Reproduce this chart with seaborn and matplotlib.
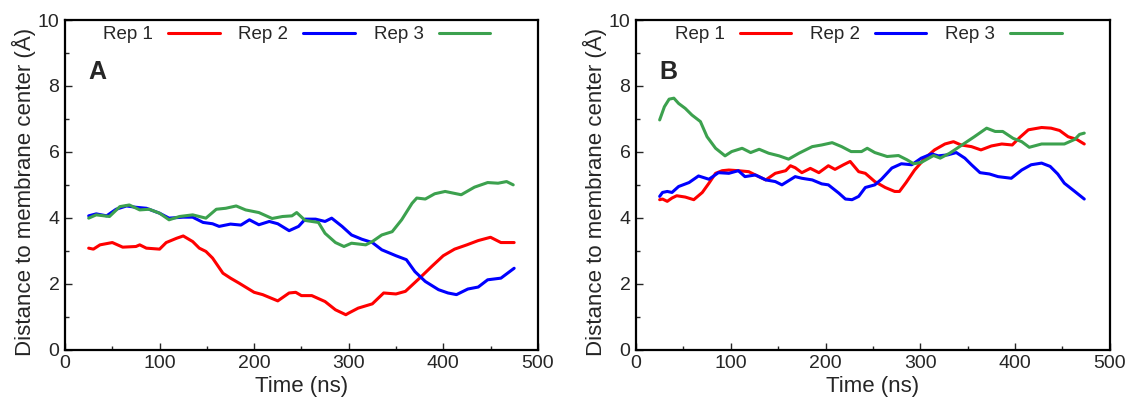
import pandas as pd
import matplotlib.pyplot as plt
import seaborn as sns
from matplotlib.ticker import MultipleLocator

# --- Data ---
# Panel A
a_rep1_t = [25, 30, 37, 50, 61, 75, 79, 86, 100, 107, 118, 125, 135, 142, 149, 156, 167, 175, 184, 200, 209, 225,
            237, 244, 250, 261, 275, 286, 297, 300, 310, 325, 337, 350, 360, 375, 388, 400, 412, 425, 437, 450, 461, 475]
a_rep1 = [3.08, 3.05, 3.18, 3.25, 3.11, 3.13, 3.18, 3.08, 3.05, 3.25, 3.38, 3.45, 3.28, 3.08, 2.98, 2.78, 2.32,
          2.17, 2.02, 1.74, 1.67, 1.48, 1.72, 1.74, 1.64, 1.64, 1.46, 1.21, 1.06, 1.11, 1.26, 1.39, 1.72, 1.69,
          1.77, 2.17, 2.53, 2.85, 3.05, 3.18, 3.31, 3.41, 3.25, 3.25]

a_rep2_t = [25, 33, 44, 54, 65, 75, 86, 100, 110, 125, 135, 146, 156, 163, 175, 186, 195, 205, 216, 225, 237, 247,
            254, 265, 275, 282, 293, 303, 314, 325, 335, 350, 361, 370, 381, 395, 405, 414, 426, 437, 447, 461, 475]
a_rep2 = [4.06, 4.12, 4.06, 4.26, 4.36, 4.32, 4.29, 4.14, 3.99, 4.02, 4.02, 3.86, 3.82, 3.74, 3.81, 3.78, 3.94,
          3.79, 3.89, 3.82, 3.61, 3.74, 3.96, 3.96, 3.89, 3.99, 3.74, 3.48, 3.35, 3.25, 3.03, 2.85, 2.73, 2.37,
          2.07, 1.82, 1.72, 1.67, 1.84, 1.90, 2.12, 2.17, 2.47]

a_rep3_t = [25, 33, 47, 58, 68, 79, 89, 100, 110, 121, 135, 149, 160, 170, 181, 191, 205, 219, 230, 240, 245, 254,
            268, 275, 286, 295, 303, 318, 325, 335, 346, 356, 367, 372, 381, 391, 402, 419, 433, 447, 458, 467, 474]
a_rep3 = [3.99, 4.09, 4.04, 4.34, 4.39, 4.24, 4.26, 4.14, 3.94, 4.04, 4.09, 3.99, 4.26, 4.29, 4.36, 4.24, 4.16,
          3.98, 4.04, 4.06, 4.16, 3.92, 3.86, 3.53, 3.25, 3.13, 3.23, 3.18, 3.28, 3.48, 3.58, 3.94, 4.44, 4.60,
          4.57, 4.73, 4.80, 4.70, 4.93, 5.07, 5.05, 5.10, 5.00]

# Panel B
b_rep1_t = [25, 28, 33, 38, 43, 52, 61, 70, 77, 84, 91, 98, 108, 119, 126, 137, 147, 158, 163, 168, 175, 184, 193,
            203, 210, 219, 226, 235, 242, 252, 263, 273, 278, 285, 294, 305, 315, 326, 335, 343, 354, 364, 375,
            386, 397, 405, 414, 428, 438, 447, 456, 465, 473]
b_rep1 = [4.55, 4.57, 4.50, 4.60, 4.67, 4.63, 4.55, 4.77, 5.05, 5.35, 5.43, 5.45, 5.43, 5.40, 5.30, 5.15, 5.35,
          5.43, 5.58, 5.52, 5.37, 5.50, 5.37, 5.58, 5.47, 5.61, 5.71, 5.40, 5.35, 5.10, 4.92, 4.80, 4.80, 5.07,
          5.45, 5.81, 6.06, 6.24, 6.31, 6.21, 6.16, 6.06, 6.18, 6.24, 6.21, 6.44, 6.67, 6.74, 6.72, 6.65, 6.46,
          6.38, 6.24]

b_rep2_t = [25, 28, 33, 38, 45, 56, 66, 77, 87, 98, 108, 115, 126, 137, 147, 154, 168, 175, 186, 196, 203, 214,
            221, 228, 235, 242, 252, 259, 270, 280, 291, 301, 312, 319, 329, 338, 347, 354, 363, 373, 382, 396,
            407, 417, 428, 437, 445, 452, 463, 473]
b_rep2 = [4.65, 4.77, 4.80, 4.77, 4.95, 5.07, 5.27, 5.17, 5.37, 5.35, 5.43, 5.25, 5.30, 5.15, 5.10, 5.00, 5.25,
          5.20, 5.15, 5.03, 5.00, 4.75, 4.57, 4.55, 4.65, 4.92, 5.00, 5.17, 5.51, 5.64, 5.61, 5.81, 5.94, 5.88,
          5.91, 5.98, 5.81, 5.61, 5.37, 5.33, 5.25, 5.20, 5.45, 5.61, 5.66, 5.56, 5.33, 5.05, 4.80, 4.57]

b_rep3_t = [25, 30, 35, 40, 45, 52, 59, 68, 75, 84, 94, 101, 112, 121, 130, 140, 151, 161, 172, 186, 196, 207,
            217, 227, 238, 244, 252, 265, 277, 286, 293, 301, 314, 321, 331, 344, 357, 370, 379, 387, 398, 407,
            415, 428, 442, 452, 463, 468, 473]
b_rep3 = [6.97, 7.37, 7.60, 7.63, 7.47, 7.32, 7.12, 6.92, 6.46, 6.11, 5.88, 6.01, 6.11, 5.98, 6.08, 5.96, 5.88,
          5.78, 5.96, 6.16, 6.21, 6.28, 6.16, 6.01, 6.01, 6.11, 5.98, 5.86, 5.89, 5.76, 5.64, 5.68, 5.89, 5.81,
          5.96, 6.21, 6.46, 6.72, 6.62, 6.62, 6.41, 6.31, 6.14, 6.24, 6.24, 6.24, 6.38, 6.53, 6.57]

rep_names = ['Rep 1', 'Rep 2', 'Rep 3']
rep_colors = ['#ff0000', '#0000ff', '#3ca14e']
panel_letters = ['A', 'B']


def to_frame(series):
    parts = []
    for name, (t, d) in zip(rep_names, series):
        parts.append(pd.DataFrame({'time': t, 'dist': d, 'rep': name}))
    return pd.concat(parts, ignore_index=True)


panels = [
    to_frame([(a_rep1_t, a_rep1), (a_rep2_t, a_rep2), (a_rep3_t, a_rep3)]),
    to_frame([(b_rep1_t, b_rep1), (b_rep2_t, b_rep2), (b_rep3_t, b_rep3)]),
]

# --- Plot ---
sns.set_style('white')
plt.rcParams['font.family'] = ['Liberation Sans', 'DejaVu Sans']

fig = plt.figure(figsize=(11.31, 4.01), dpi=100)
ax_pos = [[0.0575, 0.128, 0.418, 0.822], [0.5623, 0.128, 0.419, 0.822]]

for pos, df, letter in zip(ax_pos, panels, panel_letters):
    ax = fig.add_axes(pos)
    sns.lineplot(data=df, x='time', y='dist', hue='rep', palette=rep_colors,
                 estimator=None, sort=False, linewidth=2.2, ax=ax)
    ax.set_xlim(0, 500)
    ax.set_ylim(0, 10)
    ax.xaxis.set_major_locator(MultipleLocator(100))
    ax.xaxis.set_minor_locator(MultipleLocator(50))
    ax.yaxis.set_major_locator(MultipleLocator(2))
    ax.yaxis.set_minor_locator(MultipleLocator(1))
    ax.tick_params(which='major', direction='in', length=5, width=1, labelsize=14, pad=4,
                   top=False, right=False, bottom=True, left=True)
    ax.tick_params(which='minor', direction='in', length=3, width=1,
                   top=False, right=False, bottom=True, left=True)
    for s in ax.spines.values():
        s.set_linewidth(1.6)
        s.set_color('black')
    ax.set_xlabel('Time (ns)', fontsize=16, labelpad=3)
    ax.set_ylabel('Distance to membrane center (Å)', fontsize=16)
    ax.yaxis.set_label_coords(-0.062, 0.478)
    ax.text(0.05, 0.878, letter, transform=ax.transAxes, fontsize=18, fontweight='bold', va='top')
    handles, labels = ax.get_legend_handles_labels()
    ax.legend(handles, labels, loc='center', bbox_to_anchor=(0.49, 0.955), ncol=3, frameon=False,
              markerfirst=False, fontsize=13.5, handlelength=2.75, handletextpad=0.8, columnspacing=1.0,
              borderaxespad=0, borderpad=0)

plt.savefig('out.png', dpi=100)
plt.close()
